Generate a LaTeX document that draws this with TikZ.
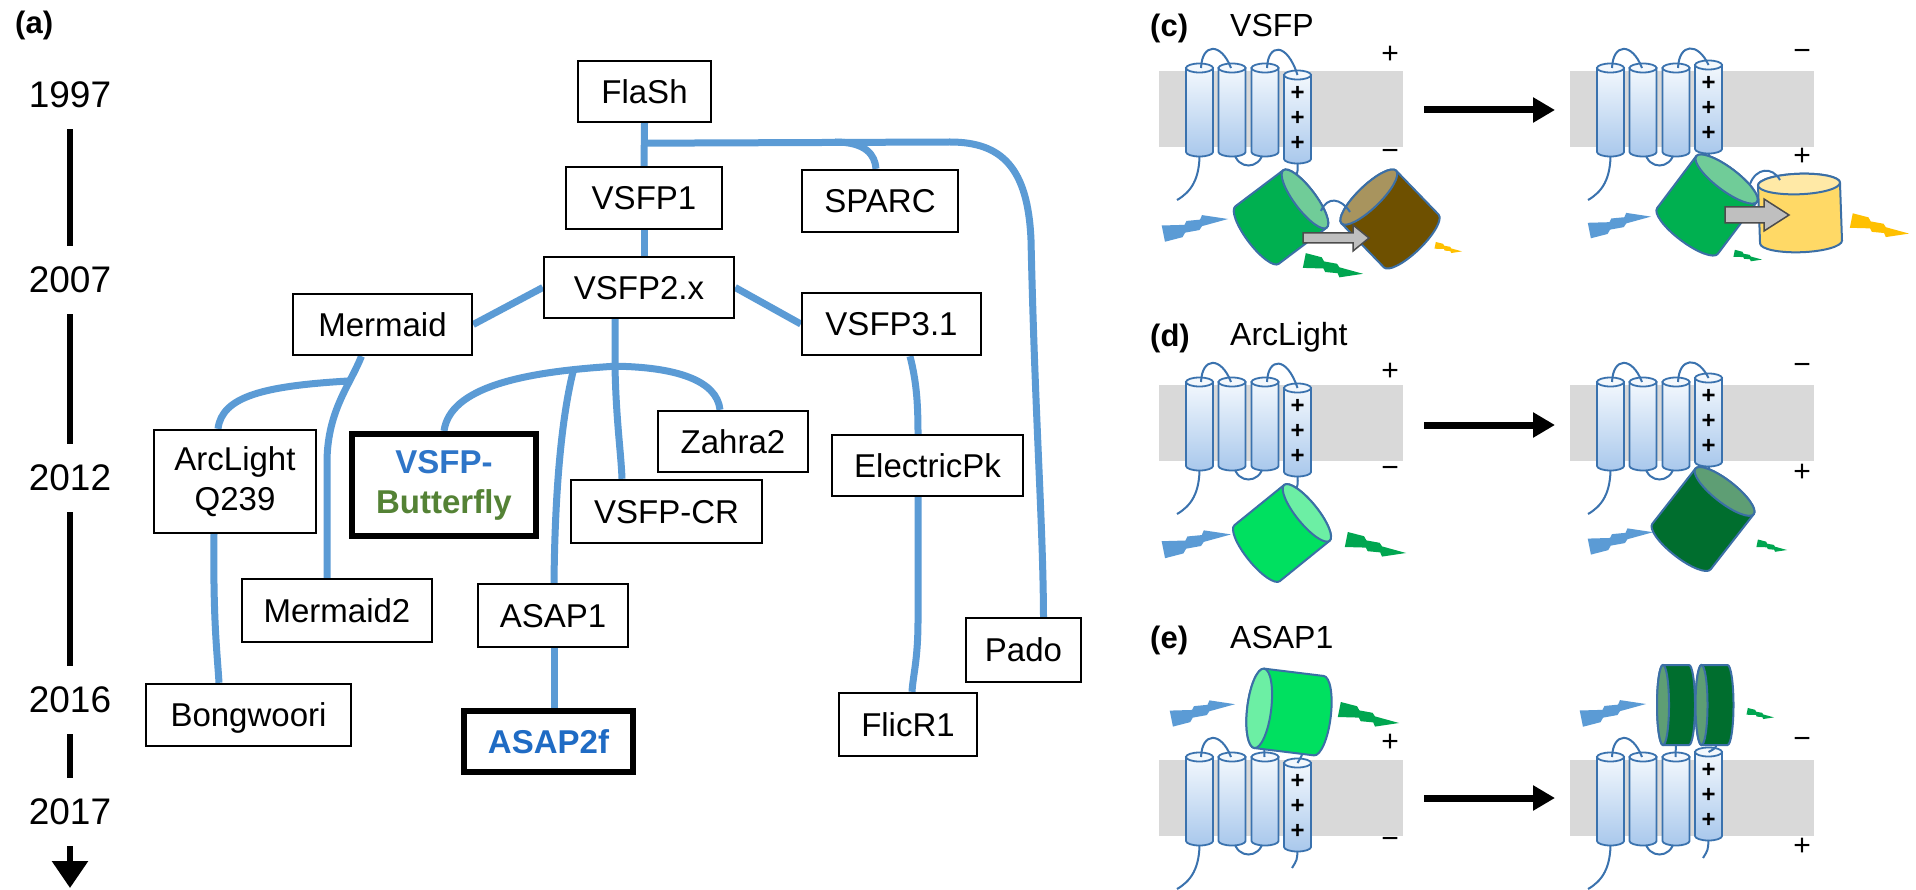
\documentclass[tikz,border=0pt]{standalone}
\usepackage{fontspec}
\setmainfont{Liberation Sans}
\usetikzlibrary{arrows.meta,calc,backgrounds}

% colours
\definecolor{linkblue}{HTML}{5B9BD5}
\definecolor{bfvsfp}{HTML}{2E75C8}
\definecolor{bfgreen}{HTML}{548235}
\definecolor{asapblue}{HTML}{1F6BC4}
\definecolor{membranegray}{HTML}{D9D9D9}
\definecolor{helixblue}{HTML}{3A72AE}
\definecolor{helixtop}{HTML}{F3F8FD}
\definecolor{helixbot}{HTML}{A9C8EC}
\definecolor{cyledge}{HTML}{3B6FA6}
\definecolor{donorgreen}{HTML}{00B050}
\definecolor{donorface}{HTML}{70CC98}
\definecolor{accbrown}{HTML}{6E5000}
\definecolor{accbface}{HTML}{A8945E}
\definecolor{accyellow}{HTML}{FFD966}
\definecolor{accyface}{HTML}{FFE9A6}
\definecolor{brightgreen}{HTML}{00E060}
\definecolor{brightface}{HTML}{6CEFA4}
\definecolor{darkgreen}{HTML}{006E2E}
\definecolor{darkface}{HTML}{5E9E74}
\definecolor{boltblue}{HTML}{5B9BD5}
\definecolor{boltgreen}{HTML}{00A650}
\definecolor{boltyellow}{HTML}{FFC000}
\definecolor{fretgray}{HTML}{BFBFBF}

% fonts
\newcommand\dgBoxFont{\fontsize{33}{40}\selectfont}
\newcommand\dgYearFont{\fontsize{37}{44}\selectfont}
\newcommand\dgPanelFont{\bfseries\fontsize{31}{36}\selectfont}
\newcommand\dgTitleFont{\fontsize{32}{38}\selectfont}
\newcommand\dgSignFont{\fontsize{30}{36}\selectfont}
\newcommand\dgPlusFont{\bfseries\fontsize{24}{28}\selectfont}

% one transmembrane helix: left x, top y, bottom y
\newcommand\dgHelix[3]{%
  \shadedraw[top color=helixtop, bottom color=helixbot, draw=helixblue, line width=1.8pt]
    ({#1},{#2}) -- ({#1},{#3}) arc[start angle=180, end angle=0, x radius=13.5, y radius=4.5] -- ({#1+27},{#2}) -- cycle;
  \filldraw[draw=helixblue, fill=helixtop, line width=1.8pt] ({#1+13.5},{#2}) ellipse[x radius=13.5, y radius=4.5];
}

% voltage-sensing domain in the membrane: membrane left, membrane top, S4 offset
\newcommand\dgUnit[3]{%
  \fill[membranegray] ({#1},{#2}) rectangle ++(244,76);
  \draw[loopline] ({#1+40.5},{#2+81}) .. controls ({#1+41},{#2+108}) and ({#1+32},{#2+121}) .. ({#1+18},{#2+129});
  \draw[loopline] ({#1+75},{#2+81}) .. controls ({#1+78},{#2+99}) and ({#1+101},{#2+99}) .. ({#1+104},{#2+81});
  \dgHelix{#1+27}{#2-3}{#2+81}
  \dgHelix{#1+59.5}{#2-3}{#2+81}
  \dgHelix{#1+92.5}{#2-3}{#2+81}
  \dgHelix{#1+125}{#2+#3}{#2+#3+84}
  \draw[loopline] ({#1+42},{#2-3}) .. controls ({#1+43},{#2-28}) and ({#1+62},{#2-29}) .. ({#1+72},{#2-3});
  \foreach \k in {18,43,68} \node[s4plus] at ({#1+138.5},{#2+#3+\k}) {+};
}
% extracellular loop between S3 and S4
\newcommand\dgLoopTF[3]{%
  \draw[loopline] ({#1+108},{#2-3}) .. controls ({#1+109},{#2-28}) and ({#1+128},{#2-29}) .. ({#1+138.5},{#2+#3});
}

% fluorescent protein barrel: cx, cy, angle, length, radius, body, face, face ratio
\newcommand\dgBarrel[8]{%
  \begin{scope}[shift={(#1,#2)}, rotate=#3]
    \filldraw[fill=#6, draw=cyledge, line width=2pt]
      ({-#4/2},{-#5}) -- ({#4/2},{-#5}) arc[start angle=-90, end angle=90, x radius=#8*#5, y radius=#5]
      -- ({-#4/2},{#5}) arc[start angle=90, end angle=270, x radius=#8*#5, y radius=#5] -- cycle;
    \filldraw[fill=#7, draw=cyledge, line width=2pt] ({#4/2},0) ellipse[x radius=#8*#5, y radius=#5];
  \end{scope}
}

% light flash: tail x, tail y, angle, length, colour, +1 falling / -1 rising
\newcommand\dgBolt[6]{%
  \fill[#5, shift={(#1,#2)}, rotate=#3, xscale=#4, yscale=#6*#4]
    (0.03,-0.15) -- (0.30,-0.08) -- (0.34,-0.01) -- (0.56,0.03) -- (0.60,0.09) -- (1,0.20)
    -- (0.60,0.26) -- (0.57,0.19) -- (0.36,0.17) -- (0.33,0.11) -- (-0.02,0.10) -- cycle;
}

\begin{document}
\begin{tikzpicture}[x=1pt, y=-1pt,
  box/.style={draw, line width=2.4pt, fill=white, inner sep=0pt, font=\dgBoxFont, align=center},
  onel/.style={text height=23.6pt, text depth=0pt},
  link/.style={draw=linkblue, line width=7pt},
  yearlabel/.style={font=\dgYearFont, inner xsep=0pt, inner ysep=21pt},
  tlbar/.style={line width=6pt},
  loopline/.style={draw=helixblue, line width=2pt},
  s4plus/.style={font=\dgPlusFont, inner sep=0pt},
  signlabel/.style={font=\dgSignFont, inner sep=0pt},
  statearrow/.style={line width=7pt, -{Triangle[length=22pt, width=24pt]}},
  fretarrow/.style={fill=fretgray, draw=black!70, line width=1.5pt},
  paneltag/.style={anchor=base west, inner sep=0pt, font=\dgPanelFont},
  paneltitle/.style={anchor=base west, inner sep=0pt, font=\dgTitleFont}]

\useasboundingbox (0,0) rectangle (1916,890);

% ---------------- (a) family tree ----------------
\node[paneltag] at (15,34) {(a)};

\node[box,onel,minimum width=133pt,minimum height=61pt] (FlaSh) at (644.5,91.5) {FlaSh};
\node[box,onel,minimum width=156pt,minimum height=62pt] (VSFPone) at (644,198) {VSFP1};
\node[box,onel,minimum width=156pt,minimum height=62pt] (SPARC) at (880,201) {SPARC};
\node[box,onel,minimum width=190pt,minimum height=61pt] (VSFPtwo) at (639,287.5) {VSFP2.x};
\node[box,onel,minimum width=179pt,minimum height=61pt] (Mermaid) at (382.5,324.5) {Mermaid};
\node[box,onel,minimum width=179pt,minimum height=62pt] (VSFPthree) at (891.5,324) {VSFP3.1};
\node[box,onel,minimum width=150pt,minimum height=61pt] (Zahra) at (733,441.5) {Zahra2};
\node[box,onel,minimum width=191pt,minimum height=61pt] (ElectricPk) at (927.5,465.5) {ElectricPk};
\node[box,onel,minimum width=191pt,minimum height=63pt] (VSFPCR) at (666.5,511.5) {VSFP-CR};
\node[box,minimum width=162pt,minimum height=103pt] (ArcLightQ) at (235,481.5) {ArcLight\\Q239};
\node[box,line width=6pt,minimum width=184pt,minimum height=102pt,font=\bfseries\dgBoxFont] (Butterfly) at (444,485)
  {\textcolor{bfvsfp}{VSFP-}\\\textcolor{bfgreen}{Butterfly}};
\node[box,onel,minimum width=190pt,minimum height=63pt] (MermaidII) at (337,610.5) {Mermaid2};
\node[box,onel,minimum width=150pt,minimum height=63pt] (ASAPone) at (553,615.5) {ASAP1};
\node[box,onel,minimum width=205pt,minimum height=62pt] (Bongwoori) at (248.5,715) {Bongwoori};
\node[box,onel,line width=6pt,minimum width=169pt,minimum height=61pt,font=\bfseries\dgBoxFont,text=asapblue] (ASAPtwo) at (548.5,741.5) {ASAP2f};
\node[box,onel,minimum width=115pt,minimum height=64pt] (Pado) at (1023.5,650) {Pado};
\node[box,onel,minimum width=138pt,minimum height=63pt] (FlicR) at (908,724.5) {FlicR1};

\begin{scope}[on background layer]
  \fill[white] (0,0) rectangle (1916,890);
  \coordinate (forkA) at ($(FlaSh.south)+(0,20)$);
  \coordinate (forkS) at (835,142);
  \coordinate (forkB) at ($(VSFPtwo.south)+(-24,47)$);
  \coordinate (forkC) at (574,368);
  \coordinate (forkD) at (348,381);
  \draw[link] (FlaSh.south) -- (VSFPone.north);
  \draw[link] (forkA) -- (950,142) .. controls (1002,142) and (1028,168) .. (1031,240)
    .. controls (1035,420) and (1043,520) .. ($(Pado.north)+(20,0)$);
  \draw[link] (forkS) .. controls (866,142) and (875,155) .. ($(SPARC.north)+(-4,0)$);
  \draw[link] (VSFPone.south) -- (VSFPone.south |- VSFPtwo.north);
  \draw[link] (VSFPtwo.west) -- (Mermaid.east);
  \draw[link] (VSFPtwo.east) -- (VSFPthree.west);
  \draw[link] ($(VSFPtwo.south)+(-24,0)$) -- (forkB) .. controls (616,420) and (621,452) .. ($(VSFPCR.north)+(-44.5,0)$);
  \draw[link] (forkB) .. controls (675,367) and (717,380) .. ($(Zahra.north)+(-13,0)$);
  \draw[link] (forkB) .. controls (520,372) and (450,388) .. (Butterfly.north);
  \draw[link] (forkC) .. controls (563,410) and (555,480) .. ($(ASAPone.north)+(1,0)$);
  \draw[link] ($(Mermaid.south)+(-21,0)$) .. controls (350,385) and (328,410) .. (327,460) -- ($(MermaidII.north)+(-10,0)$);
  \draw[link] (forkD) .. controls (265,386) and (222,396) .. ($(ArcLightQ.north)+(-17,0)$);
  \draw[link] ($(ArcLightQ.south)+(-21,0)$) .. controls (213,620) and (217,650) .. ($(Bongwoori.north)+(-29.5,0)$);
  \draw[link] ($(VSFPthree.south)+(18.5,0)$) .. controls (916,380) and (918,400) .. ($(ElectricPk.north)+(-9.5,0)$);
  \draw[link] ($(ElectricPk.south)+(-9.5,0)$) -- (918,620) .. controls (918,660) and (913,675) .. ($(FlicR.north)+(4,0)$);
  \draw[link] ($(ASAPone.south)+(1,0)$) -- ($(ASAPone.south |- ASAPtwo.north)+(1,0)$);
\end{scope}

% time line
\node[yearlabel] (yA) at (70,95) {1997};
\node[yearlabel] (yB) at (70,280) {2007};
\node[yearlabel] (yC) at (70,478) {2012};
\node[yearlabel] (yD) at (70,700) {2016};
\node[yearlabel] (yE) at (70,812) {2017};
\coordinate (tlEnd) at (70,888);
\draw[tlbar] (yA) -- (yB);
\draw[tlbar] (yB) -- (yC);
\draw[tlbar] (yC) -- (yD);
\draw[tlbar] (yD) -- (yE);
\draw[tlbar,-{Triangle[length=27pt,width=35pt]}] (yE) -- (tlEnd);

% ---------------- (c) VSFP ----------------
\node[paneltag] at (1150,37) {(c)};
\node[paneltitle] at (1230,37) {VSFP};
\dgUnit{1159}{71}{4}
\dgLoopTF{1159}{71}{4}
\node[signlabel] at (1390,55) {+};
\node[signlabel] at (1390,155) {−};
\draw[loopline] (1297.5,163) .. controls (1298,171) .. (1294,181);
\dgBarrel{1281}{217}{37}{60}{36}{donorgreen}{donorface}{0.3}
\dgBarrel{1390}{219}{134}{61}{38}{accbrown}{accbface}{0.3}
\draw[loopline] (1321,211) .. controls (1327,196) and (1341,198) .. (1350,212);
\draw[fretarrow] (1303,233) -- (1353,233) -- (1353,225) -- (1369,238) -- (1353,251) -- (1353,243) -- (1303,243) -- cycle;
\dgBolt{1163}{232}{0}{65}{boltblue}{-1}
\dgBolt{1304}{262}{0}{59}{boltgreen}{1}
\dgBolt{1435}{246}{0}{27}{boltyellow}{1}

\draw[statearrow] (1424,110) -- (1555,110);

\dgUnit{1570}{71}{-6}
\dgLoopTF{1570}{71}{-6}
\node[signlabel] at (1802,55) {−};
\node[signlabel] at (1802,157) {+};
\draw[loopline] (1708.5,153) .. controls (1710,162) .. (1712,172);
\dgBarrel{1707}{205}{53}{65}{38}{donorgreen}{donorface}{0.3}
\dgBarrel{1800}{213}{92}{58}{41}{accyellow}{accyface}{0.25}
\draw[loopline] (1750,184) .. controls (1756,168) and (1772,166) .. (1780,180);
\draw[fretarrow] (1725,207) -- (1764,207) -- (1764,199) -- (1789,215) -- (1764,231) -- (1764,223) -- (1725,223) -- cycle;
\dgBolt{1589}{229}{0}{62}{boltblue}{-1}
\dgBolt{1734}{254}{0}{28}{boltgreen}{1}
\dgBolt{1851}{222}{0}{58}{boltyellow}{1}

% ---------------- (d) ArcLight ----------------
\node[paneltag] at (1150,347) {(d)};
\node[paneltitle] at (1230,345) {ArcLight};
\dgUnit{1159}{385}{3}
\dgLoopTF{1159}{385}{3}
\node[signlabel] at (1390,372) {+};
\node[signlabel] at (1390,472) {−};
\draw[loopline] (1297.5,476) .. controls (1298,484) .. (1295,494);
\dgBarrel{1282}{533}{39}{64}{36}{brightgreen}{brightface}{0.3}
\dgBolt{1163}{548}{0}{68}{boltblue}{-1}
\dgBolt{1346}{541}{0}{60}{boltgreen}{1}

\draw[statearrow] (1424,425) -- (1555,425);

\dgUnit{1570}{385}{-7}
\dgLoopTF{1570}{385}{-7}
\node[signlabel] at (1802,369) {−};
\node[signlabel] at (1802,473) {+};
\draw[loopline] (1708.5,466) .. controls (1710,474) .. (1712,482);
\dgBarrel{1703}{519}{52}{70}{37}{darkgreen}{darkface}{0.3}
\dgBolt{1589}{545}{0}{64}{boltblue}{-1}
\dgBolt{1757}{544}{0}{30}{boltgreen}{1}

% ---------------- (e) ASAP1 ----------------
\node[paneltag] at (1150,648) {(e)};
\node[paneltitle] at (1230,648) {ASAP1};
\dgUnit{1159}{760}{3}
\node[signlabel] at (1390,743) {+};
\node[signlabel] at (1390,843) {−};
\draw[loopline] (1297.5,851) .. controls (1297,860) .. (1292,868);
\draw[loopline] (1266,745) .. controls (1264,750) .. (1264.5,757);
\draw[loopline] (1300,743) .. controls (1304,752) .. (1297.5,763);
\dgBarrel{1289}{712}{173}{60}{40}{brightgreen}{brightface}{0.3}
\dgBolt{1171}{717}{0}{64}{boltblue}{-1}
\dgBolt{1339}{711}{0}{60}{boltgreen}{1}

\draw[statearrow] (1424,798) -- (1555,798);

\dgUnit{1570}{760}{-8}
\node[signlabel] at (1802,743) {−};
\node[signlabel] at (1802,847) {+};
\draw[loopline] (1708.5,840) .. controls (1708,850) .. (1703,858);
\draw[loopline] (1676,742) .. controls (1675,750) .. (1675.5,757);
\draw[loopline] (1717,742) .. controls (1716,748) .. (1708.5,752);
\dgBarrel{1676}{705}{180}{26}{40}{darkgreen}{darkface}{0.15}
\dgBarrel{1714.5}{705}{180}{26}{40}{darkgreen}{darkface}{0.15}
\dgBolt{1581}{717}{0}{65}{boltblue}{-1}
\dgBolt{1747}{712}{0}{27}{boltgreen}{1}

\end{tikzpicture}
\end{document}
